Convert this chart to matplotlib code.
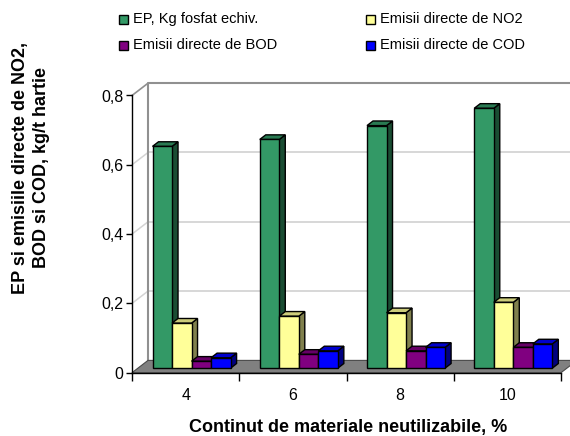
import matplotlib
matplotlib.use("Agg")
import matplotlib.pyplot as plt
from matplotlib.patches import Polygon, Rectangle
from matplotlib.colors import to_rgb

plt.rcParams['font.family'] = ['Liberation Sans', 'DejaVu Sans']

# Data
categories = ["4", "6", "8", "10"]
series_names = ["EP, Kg fosfat echiv.", "Emisii directe de NO2",
                "Emisii directe de BOD", "Emisii directe de COD"]
ep_values = [0.64, 0.66, 0.70, 0.75]
no2_values = [0.13, 0.15, 0.16, 0.19]
bod_values = [0.02, 0.04, 0.05, 0.06]
cod_values = [0.03, 0.05, 0.06, 0.07]
series_values = [ep_values, no2_values, bod_values, cod_values]
series_colors = ["#339966", "#FFFF99", "#800080", "#0000FF"]
y_ticks = [0, 0.2, 0.4, 0.6, 0.8]
y_tick_labels = ["0", "0,2", "0,4", "0,6", "0,8"]

W, H = 570, 436
fig = plt.figure(figsize=(W / 100, H / 100), dpi=100)
fig.patch.set_facecolor("white")

# front plane of the plot, in pixels
left_px, right_px, bottom_px, top_px = 132, 561, 372.7, 95.5
ax = fig.add_axes([left_px / W, 1 - bottom_px / H,
                   (right_px - left_px) / W, (bottom_px - top_px) / H])
n = len(categories)
ax.set_xlim(-0.5, n - 0.5)
ax.set_ylim(0, 0.8)
ax.patch.set_visible(False)

# depth of the pseudo-3D box, converted to data units
depth_px_x, depth_px_y = 16.0, 12.3
ux = n / (right_px - left_px)
uy = 0.8 / (bottom_px - top_px)
DX, DY = depth_px_x * ux, depth_px_y * uy

x0, x1 = -0.5, n - 0.5
grid_c = "#D4D4D4"
wall_c = "#909090"

# back wall and side-wall gridlines
for v in y_ticks[1:-1]:
    ax.plot([x0 + DX, x1 + DX], [v + DY, v + DY], color=grid_c, lw=1.3,
            clip_on=False, zorder=1)
    ax.plot([x0, x0 + DX], [v, v + DY], color=grid_c, lw=1.1,
            clip_on=False, zorder=1)
ax.plot([x0 + DX, x0 + DX, x1 + DX], [DY, 0.8 + DY, 0.8 + DY],
        color=wall_c, lw=1.5, clip_on=False, zorder=1)
ax.plot([x0, x0 + DX], [0.8, 0.8 + DY], color=wall_c, lw=1.2,
        clip_on=False, zorder=1)

# floor
floor = Polygon([(x0, 0), (x1, 0), (x1 + DX, DY), (x0 + DX, DY)],
                closed=True, facecolor="#808080", edgecolor="#4A4A4A",
                lw=0.8, clip_on=False, zorder=2)
ax.add_patch(floor)


def shade(c, k):
    r, g, b = to_rgb(c)
    return (r * k, g * k, b * k)


# bars: front face at depth f0, back at f1
f0, f1 = 0.37, 0.745
bar_w = 0.182
group_w = bar_w * len(series_values)
z = 3
for i in range(n):
    for j, vals in enumerate(series_values):
        v = vals[i]
        col = series_colors[j]
        xl = i - group_w / 2 + j * bar_w + f0 * DX
        xr = xl + bar_w
        yb = f0 * DY
        yt = yb + v
        ddx, ddy = (f1 - f0) * DX, (f1 - f0) * DY
        front = Polygon([(xl, yb), (xr, yb), (xr, yt), (xl, yt)],
                        facecolor=col, edgecolor="black", lw=1.0,
                        clip_on=False, zorder=z)
        side = Polygon([(xr, yb), (xr + ddx, yb + ddy), (xr + ddx, yt + ddy),
                        (xr, yt)], facecolor=shade(col, 0.5),
                       edgecolor="black", lw=1.0, clip_on=False, zorder=z)
        top = Polygon([(xl, yt), (xr, yt), (xr + ddx, yt + ddy),
                       (xl + ddx, yt + ddy)], facecolor=shade(col, 0.8),
                      edgecolor="black", lw=1.0, clip_on=False, zorder=z)
        for p in (side, top, front):
            ax.add_patch(p)
        z += 1

# axes
for s in ("top", "right"):
    ax.spines[s].set_visible(False)
for s in ("left", "bottom"):
    ax.spines[s].set_color("black")
    ax.spines[s].set_linewidth(1.0)
    ax.spines[s].set_zorder(50)

ax.set_yticks(y_ticks)
ax.set_yticklabels(y_tick_labels, fontsize=11.5)
ax.tick_params(axis="y", direction="out", length=4, width=1, pad=2)

ax.set_xticks([k - 0.5 for k in range(n + 1)])
ax.set_xticklabels([])
ax.set_xticks(range(n), minor=True)
ax.set_xticklabels(categories, minor=True, fontsize=11.5)
ax.tick_params(axis="x", which="major", direction="out", length=6, width=1)
ax.tick_params(axis="x", which="minor", length=0, pad=11)

ax.set_xlabel("Continut de materiale neutilizabile, %", fontsize=13,
              fontweight="bold")
ax.xaxis.set_label_coords((348 - left_px) / (right_px - left_px),
                          (bottom_px - 427) / (bottom_px - top_px))
ax.xaxis.label.set_va("center")

ax.set_ylabel("EP si emisiile directe de NO2,\nBOD si COD, kg/t hartie",
              fontsize=13, fontweight="bold", linespacing=1.3,
              multialignment="center")
ax.yaxis.set_label_coords((31 - left_px) / (right_px - left_px),
                          (bottom_px - 168) / (bottom_px - top_px))
ax.yaxis.label.set_va("center")

# legend
legend_pos = [(119, 19), (366, 19), (119, 45), (366, 45)]
for (lx, ly), name, col in zip(legend_pos, series_names, series_colors):
    fig.patches.append(Rectangle((lx / W, 1 - (ly + 4.6) / H), 9 / W, 9 / H,
                                 transform=fig.transFigure, facecolor=col,
                                 edgecolor="black", lw=1.0))
    fig.text((lx + 14) / W, 1 - ly / H, name, fontsize=10.5,
             ha="left", va="center")

fig.savefig("out.png", dpi=100, facecolor="white")
